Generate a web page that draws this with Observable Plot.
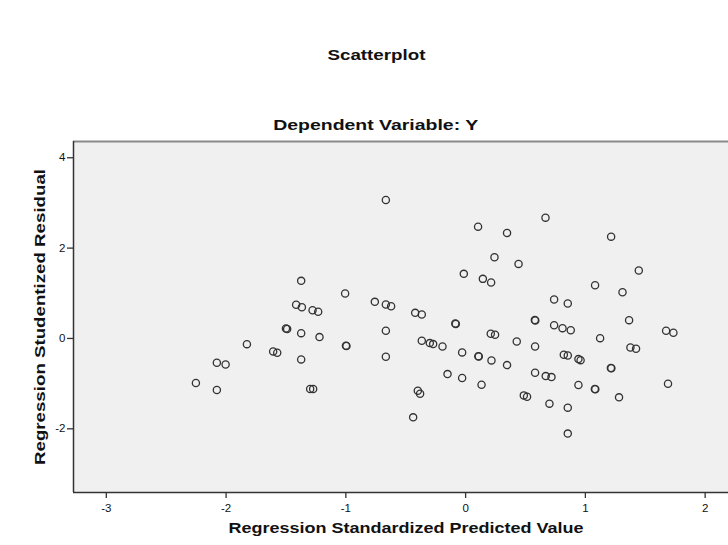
<!DOCTYPE html>
<html>
<head>
<meta charset="utf-8">
<script src="https://cdn.jsdelivr.net/npm/d3@7"></script>
<script src="https://cdn.jsdelivr.net/npm/@observablehq/plot@0.6"></script>
<style>
  html, body { margin: 0; padding: 0; background: #ffffff; }
  body { width: 728px; height: 545px; overflow: hidden; font-family: "Liberation Sans", Arial, sans-serif; }
  #head { position: relative; height: 130px; width: 728px; }
  .t { position: absolute; left: 0; width: 752px; text-align: center; font-weight: bold; font-size: 15.5px; color: #111; line-height: 18px; }
  .t span { display: inline-block; transform-origin: 50% 50%; }
  .t1 { top: 46px; }
  .t2 { top: 116px; }
  svg { display: block; }
  [aria-label="x-axis label"] text, [aria-label="y-axis label"] text { font-weight: bold; font-size: 15.5px; fill: #111; }
  [aria-label="x-axis tick label"] text, [aria-label="y-axis tick label"] text { font-size: 11.5px; fill: #111; }
</style>
</head>
<body>
<div id="head">
  <div class="t t1"><span id="title">Scatterplot</span></div>
  <div class="t t2"><span id="subtitle">Dependent Variable: Y</span></div>
</div>
<div id="chart"></div>
<script>
// Regression Standardized Predicted Value (x)
const predicted = [
  -1.373, -1.415, -1.367, -1.50, -1.49, -1.373, -0.666, 0.104, 0.346, 0.667,
  0.241, 0.442, -0.015, 0.144, 0.213, -1.006, -1.278, -1.231, -0.758, -0.666,
  -0.622, -0.421, -0.366, -0.086, -0.082, 0.578, 0.582, 0.21, 0.246, -1.22,
  -0.666, 1.215, 1.446, 1.081, 1.31, 0.739, 0.853, 1.365, 0.739, 0.809,
  0.878, 1.123, 1.674, 1.735, -1.826, -1.607, -1.573, -1.373, -2.077, -2.004,
  -2.252, -2.077, -0.999, -0.995, -0.666, -1.298, -1.273, -0.366, -0.299, -0.271,
  -0.193, -0.029, 0.106, 0.110, 0.427, 0.58, 0.216, 0.346, -0.151, -0.029,
  0.133, 0.58, 0.669, 0.717, 0.486, 0.513, -0.399, -0.38, -0.438, 0.82,
  0.853, 0.942, 0.96, 1.376, 1.423, 1.213, 1.217, 0.942, 1.079, 1.083,
  1.69, 0.7, 0.853, 1.281, 0.853
];
// Regression Studentized Residual (y)
const residual = [
  1.275, 0.745, 0.692, 0.22, 0.21, 0.117, 3.065, 2.475, 2.336, 2.674,
  1.797, 1.65, 1.43, 1.319, 1.238, 0.994, 0.625, 0.59, 0.81, 0.751,
  0.714, 0.567, 0.53, 0.33, 0.32, 0.41, 0.40, 0.104, 0.082, 0.03,
  0.17, 2.254, 1.503, 1.178, 1.023, 0.862, 0.773, 0.405, 0.294, 0.228,
  0.183, 0.007, 0.17, 0.126, -0.126, -0.287, -0.317, -0.464, -0.538, -0.575,
  -0.987, -1.142, -0.16, -0.165, -0.405, -1.12, -1.12, -0.052, -0.103, -0.125,
  -0.177, -0.309, -0.395, -0.40, -0.066, -0.177, -0.486, -0.59, -0.789, -0.877,
  -1.024, -0.758, -0.833, -0.855, -1.26, -1.29, -1.156, -1.223, -1.746, -0.36,
  -0.376, -0.457, -0.48, -0.199, -0.228, -0.653, -0.66, -1.031, -1.118, -1.122,
  -1.001, -1.443, -1.532, -1.304, -2.106
];
const xTicks = [-3, -2, -1, 0, 1, 2];
const yTicks = [4, 2, 0, -2];
const xDomain = [-3.274, 2.195];
const yDomain = [-3.41, 4.36];
const xLabel = "Regression Standardized Predicted Value";
const yLabel = "Regression Studentized Residual";

const data = predicted.map((x, i) => ({x, y: residual[i]}));
const fmt = d => String(d);

const chart = Plot.plot({
  width: 728,
  height: 415,
  marginTop: 11,
  marginBottom: 53,
  marginLeft: 73,
  marginRight: 0,
  style: { fontFamily: "Liberation Sans, Arial, sans-serif", fontSize: "11.5px", color: "#111", background: "transparent" },
  x: { domain: xDomain },
  y: { domain: yDomain },
  marks: [
    Plot.frame({ fill: "#f0f0f0", stroke: null }),
    Plot.ruleY([yDomain[1]], { stroke: "#8a8a8a", strokeWidth: 2 }),
    Plot.ruleX([xDomain[0]], { stroke: "#333", strokeWidth: 1.5 }),
    Plot.ruleY([yDomain[0]], { stroke: "#333", strokeWidth: 1.5 }),
    Plot.axisX({ ticks: xTicks, tickFormat: fmt, tickSize: 6, tickPadding: 5, stroke: "#333", strokeWidth: 1.3,
      label: xLabel, labelArrow: "none", labelAnchor: "center", labelOffset: 40 }),
    Plot.axisY({ ticks: yTicks, tickFormat: fmt, tickSize: 6, tickPadding: 2, stroke: "#333", strokeWidth: 1.3,
      label: yLabel, labelArrow: "none", labelAnchor: "center", labelOffset: 40 }),
    Plot.dot(data, { x: "x", y: "y", r: 3.6, stroke: "#333", strokeWidth: 1.3, fill: "none" })
  ]
});
document.getElementById("chart").appendChild(chart);

// clean axis labels (no arrows) and stretch them like the SPSS rendering
const xl = chart.querySelector('[aria-label="x-axis label"] text');
if (xl) {
  xl.textContent = xLabel;
  xl.setAttribute("textLength", 355);
  xl.setAttribute("lengthAdjust", "spacingAndGlyphs");
  xl.setAttribute("dx", 5);
}
const yl = chart.querySelector('[aria-label="y-axis label"] text');
if (yl) {
  yl.textContent = yLabel;
  yl.setAttribute("textLength", 296);
  yl.setAttribute("lengthAdjust", "spacingAndGlyphs");
}
function stretch(id, target) {
  const el = document.getElementById(id);
  const w = el.getBoundingClientRect().width;
  if (w > 0) el.style.transform = `scaleX(${target / w})`;
}
stretch("title", 98);
stretch("subtitle", 205);
</script>
</body>
</html>
